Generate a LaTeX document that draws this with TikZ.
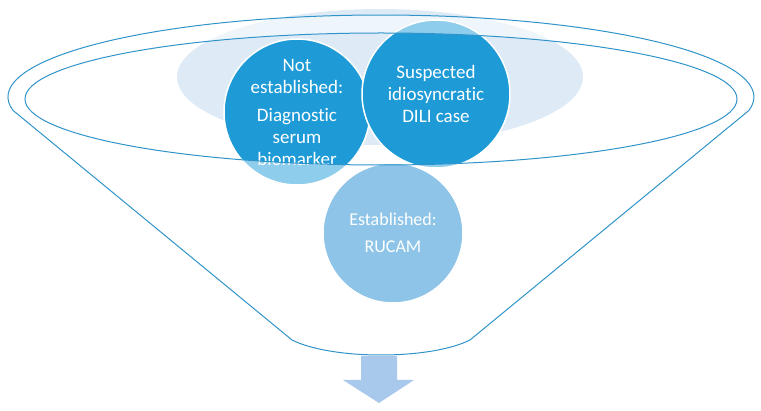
\documentclass[tikz,border=0pt]{standalone}
\usepackage{fontspec}
\setmainfont{Carlito}[Ligatures={NoCommon}]
\definecolor{bgell}{RGB}{222,235,247}
\definecolor{darkc}{RGB}{30,155,215}
\definecolor{lightc}{RGB}{141,196,232}
\definecolor{funnel}{RGB}{48,148,202}
\definecolor{arrowc}{RGB}{168,200,236}
\tikzset{
  circ/.style={circle, draw=white, line width=1.5pt, text=white, align=center, inner sep=0pt},
  funnelline/.style={draw=funnel, line width=1pt},
}
\begin{document}
\begin{tikzpicture}[x=1pt,y=1pt]
\useasboundingbox (0,0) rectangle (761,410);
% background ellipse
\fill[bgell] (380,333) ellipse [x radius=203, y radius=68];
% upper circles
\node[circ, fill=darkc, minimum size=146pt, font=\fontsize{19}{22}\selectfont] (notest) at (297,298)
  {Not\\established:\\[6pt]Diagnostic\\serum\\biomarker};
\node[circ, fill=darkc, minimum size=148pt, font=\fontsize{19}{22}\selectfont] (susp) at (436,316)
  {Suspected\\idiosyncratic\\DILI case};
% funnel coordinates
\coordinate (lc) at (13,299.6);
\coordinate (bl) at (292,70);
\coordinate (br) at (470,70);
% translucent white funnel body
\fill[white, fill opacity=0.5, even odd rule] (lc) arc[start angle=189.4, end angle=-9.4, x radius=373, y radius=82]
  -- (br) .. controls (430,50) and (332,50) .. (bl) -- cycle
  (381,311) ellipse [x radius=356, y radius=66];
% lower circle
\node[circ, fill=lightc, minimum size=140pt, font=\fontsize{18}{22}\selectfont] (est) at (393,177)
  {Established:\\[5pt]RUCAM};
% funnel outline
\draw[funnelline] (lc) arc[start angle=189.4, end angle=-9.4, x radius=373, y radius=82]
  -- (br) .. controls (430,50) and (332,50) .. (bl) -- cycle;
\draw[funnelline] (381,311) ellipse [x radius=356, y radius=66];
% down arrow
\fill[arrowc] (361,54) -- (397,54) -- (397,30) -- (414,30) -- (379,7) -- (343,30) -- (361,30) -- cycle;
\end{tikzpicture}
\end{document}
